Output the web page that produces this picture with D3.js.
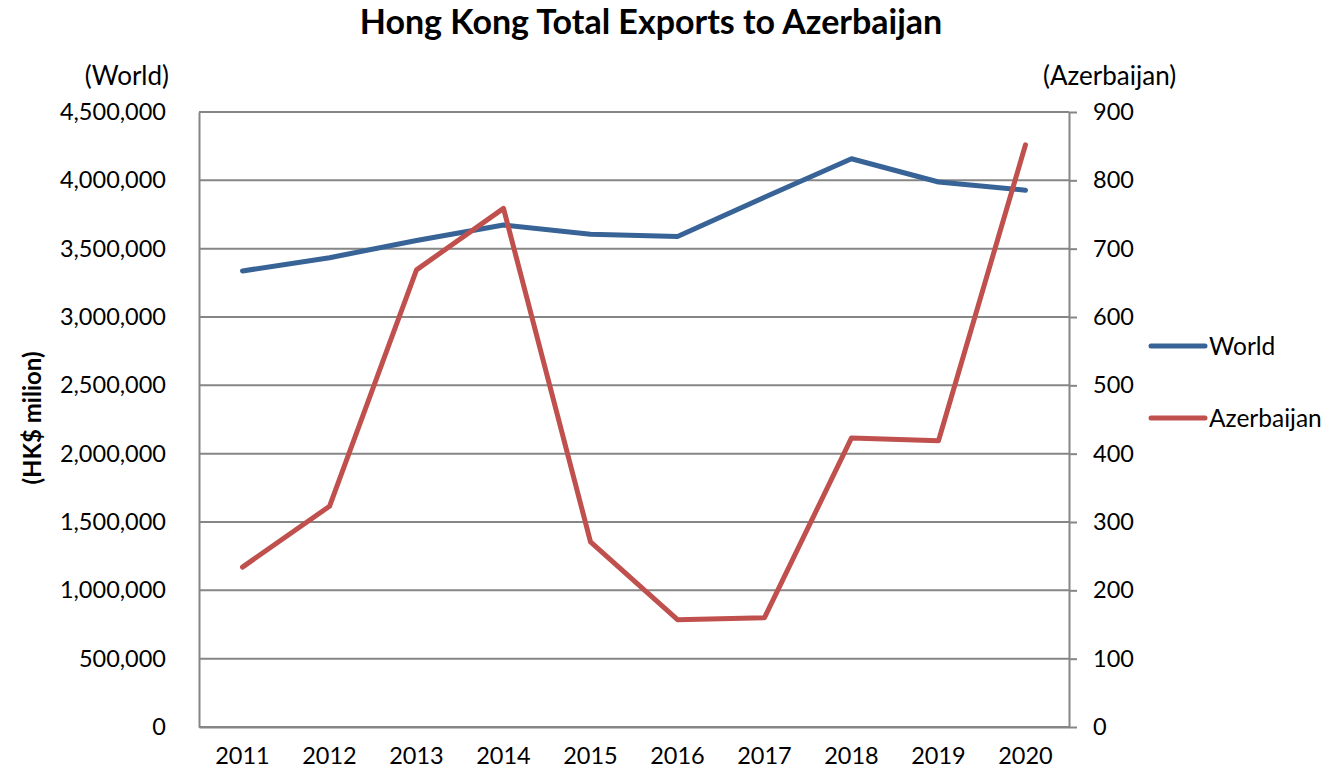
<!DOCTYPE html>
<html>
<head>
  <meta charset="utf-8">
  <title>Hong Kong Total Exports to Azerbaijan</title>
  <script src="https://cdn.jsdelivr.net/npm/d3@7"></script>
  <style>
    body { margin: 0; background: #fff; }
    text { font-family: Lato, "Noto Sans", sans-serif; fill: #000; }
  </style>
</head>
<body>
  <script>
    const years = ['2011', '2012', '2013', '2014', '2015', '2016', '2017', '2018', '2019', '2020']
    const world = [3337000, 3434000, 3560000, 3673000, 3605000, 3589000, 3876000, 4158000, 3988000, 3928000]
    const azerbaijan = [234, 323, 669, 759, 271, 157, 160, 423, 419, 852]
    const leftTicks = [0, 500000, 1000000, 1500000, 2000000, 2500000, 3000000, 3500000, 4000000, 4500000]
    const rightTicks = [0, 100, 200, 300, 400, 500, 600, 700, 800, 900]

    const width = 1342, height = 776
    const plot = { left: 199, right: 1069, top: 112, bottom: 727 }

    const svg = d3.select('body').append('svg')
      .attr('width', width)
      .attr('height', height)

    const xScale = d3.scaleBand()
      .domain(years)
      .range([plot.left, plot.right])

    const yLeft = d3.scaleLinear()
      .domain([0, 4500000])
      .range([plot.bottom, plot.top])

    const yRight = d3.scaleLinear()
      .domain([0, 900])
      .range([plot.bottom, plot.top])

    // gridlines
    svg.append('g')
      .selectAll('line')
      .data(leftTicks)
      .enter()
      .append('line')
      .attr('x1', plot.left)
      .attr('x2', plot.right)
      .attr('y1', d => yLeft(d))
      .attr('y2', d => yLeft(d))
      .attr('stroke', '#868686')
      .attr('stroke-width', 2)

    // left axis
    const leftAxis = svg.append('g')
      .attr('transform', `translate(${plot.left},0)`)
      .call(d3.axisLeft(yLeft).tickValues(leftTicks).tickFormat(d3.format(',')).tickSize(0).tickPadding(33))
    leftAxis.select('.domain').attr('stroke', '#868686').attr('stroke-width', 2)
    leftAxis.selectAll('text').style('font-size', '23.5px').style('font-family', 'Lato, sans-serif')

    // right axis
    const rightAxis = svg.append('g')
      .attr('transform', `translate(${plot.right},0)`)
      .call(d3.axisRight(yRight).tickValues(rightTicks).tickSize(8).tickSizeOuter(0).tickPadding(16))
    rightAxis.select('.domain').attr('stroke', '#868686').attr('stroke-width', 2)
    rightAxis.selectAll('.tick line').attr('stroke', '#868686').attr('stroke-width', 2)
    rightAxis.selectAll('text').style('font-size', '23.5px').style('font-family', 'Lato, sans-serif')

    // x axis
    const xAxis = svg.append('g')
      .attr('transform', `translate(0,${plot.bottom})`)
      .call(d3.axisBottom(xScale).tickSize(0).tickPadding(20))
    xAxis.select('.domain').attr('stroke', '#868686').attr('stroke-width', 2)
    xAxis.selectAll('text').style('font-size', '23.5px').style('font-family', 'Lato, sans-serif')

    // lines
    const cx = d => xScale(d) + xScale.bandwidth() / 2
    const worldLine = d3.line()
      .x((d, i) => cx(years[i]))
      .y(d => yLeft(d))
    const azLine = d3.line()
      .x((d, i) => cx(years[i]))
      .y(d => yRight(d))

    svg.append('path')
      .datum(world)
      .attr('d', worldLine)
      .attr('fill', 'none')
      .attr('stroke', '#386396')
      .attr('stroke-width', 5)
      .attr('stroke-linejoin', 'round')
      .attr('stroke-linecap', 'round')

    svg.append('path')
      .datum(azerbaijan)
      .attr('d', azLine)
      .attr('fill', 'none')
      .attr('stroke', '#C0504D')
      .attr('stroke-width', 5)
      .attr('stroke-linejoin', 'round')
      .attr('stroke-linecap', 'round')

    // titles
    svg.append('text')
      .attr('x', 651)
      .attr('y', 34)
      .attr('text-anchor', 'middle')
      .style('font-size', '34px')
      .style('font-weight', 'bold')
      .text('Hong Kong Total Exports to Azerbaijan')

    svg.append('text')
      .attr('x', 169)
      .attr('y', 85)
      .attr('text-anchor', 'end')
      .style('font-size', '26px')
      .text('(World)')

    svg.append('text')
      .attr('x', 1043)
      .attr('y', 85)
      .style('font-size', '26px')
      .text('(Azerbaijan)')

    svg.append('text')
      .attr('transform', 'translate(41,418) rotate(-90)')
      .attr('text-anchor', 'middle')
      .style('font-size', '24px')
      .style('font-weight', 'bold')
      .text('(HK$ milion)')

    // legend
    const legend = [
      { name: 'World', color: '#386396', y: 346 },
      { name: 'Azerbaijan', color: '#C0504D', y: 418 }
    ]
    const lg = svg.append('g')
      .selectAll('g')
      .data(legend)
      .enter()
      .append('g')
    lg.append('line')
      .attr('x1', 1151)
      .attr('x2', 1205)
      .attr('y1', d => d.y)
      .attr('y2', d => d.y)
      .attr('stroke', d => d.color)
      .attr('stroke-width', 5)
      .attr('stroke-linecap', 'round')
    lg.append('text')
      .attr('x', 1209)
      .attr('y', d => d.y)
      .attr('dy', '0.35em')
      .style('font-size', '24.5px')
      .text(d => d.name)
  </script>
</body>
</html>
